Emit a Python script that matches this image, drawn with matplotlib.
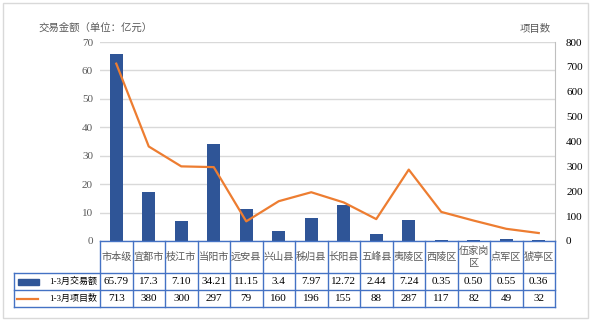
import numpy as np
import matplotlib.pyplot as plt
from matplotlib.patches import Rectangle

plt.rcParams['font.family'] = ['Liberation Serif', 'Noto Sans CJK SC']

# data
regions = ['市本级', '宜都市', '枝江市', '当阳市', '远安县', '兴山县', '秭归县',
           '长阳县', '五峰县', '夷陵区', '西陵区', '伍家岗\n区', '点军区', '猇亭区']
amount = [65.79, 17.3, 7.10, 34.21, 11.15, 3.4, 7.97, 12.72, 2.44, 7.24, 0.35, 0.50, 0.55, 0.36]
amount_txt = ['65.79', '17.3', '7.10', '34.21', '11.15', '3.4', '7.97', '12.72', '2.44',
              '7.24', '0.35', '0.50', '0.55', '0.36']
projects = [713, 380, 300, 297, 79, 160, 196, 155, 88, 287, 117, 82, 49, 32]
row_names = ['1-3月交易额', '1-3月项目数']

bar_c = '#2F5597'
line_c = '#ED7D31'
tab_c = '#4472C4'
txt_c = '#595959'

fig = plt.figure(figsize=(5.91, 3.23), dpi=100)
W, H = 591, 323
x = np.arange(len(regions))
colw = 455 / len(regions)

# main plot
ax = fig.add_axes([100 / W, 1 - 241 / H, 455 / W, 199 / H])
ax.bar(x, amount, width=0.4, color=bar_c, zorder=3)
ax.set_xlim(-0.5, len(regions) - 0.5)
ax.set_ylim(0, 70)
ax.set_yticks(range(0, 71, 10))
ax.yaxis.grid(True, color='#D9D9D9', lw=1)
ax.set_axisbelow(True)
ax.set_xticks([])
ax.tick_params(axis='y', length=0, labelsize=8, labelcolor=txt_c, pad=5)
for s in ['top', 'right', 'left', 'bottom']:
    ax.spines[s].set_visible(False)

ax2 = ax.twinx()
ax2.plot(x, projects, color=line_c, lw=1.6, zorder=4)
ax2.set_ylim(0, 800)
ax2.set_yticks(range(0, 801, 100))
ax2.tick_params(axis='y', length=0, labelsize=8, labelcolor='black', pad=8)
for s in ['top', 'left', 'bottom']:
    ax2.spines[s].set_visible(False)
ax2.spines['right'].set_color('#BFBFBF')

fig.text(38 / W, 1 - 28 / H, '交易金额（单位：亿元）', fontsize=7.5, color=txt_c, va='center')
fig.text(520 / W, 1 - 29 / H, '项目数', fontsize=7.5, color=txt_c, va='center')

# data table
tb = fig.add_axes([100 / W, 1 - 307 / H, 455 / W, 66 / H])
tb.set_xlim(-0.5, len(regions) - 0.5)
tb.set_ylim(66, 0)
tb.axis('off')


def px(v):
    return -0.5 + (v - 100) / colw


left = px(14)
rows = [0, 32, 49, 66]
for y in rows:
    x0 = -0.5 if y == 0 else left
    tb.plot([x0, len(regions) - 0.5], [y, y], color=tab_c, lw=1, clip_on=False)
for i in range(len(regions) + 1):
    tb.plot([i - 0.5, i - 0.5], [0, 66], color=tab_c, lw=1, clip_on=False)
tb.plot([left, left], [32, 66], color=tab_c, lw=1, clip_on=False)

for i, name in enumerate(regions):
    tb.text(i, 16, name, ha='center', va='center', fontsize=7.3, color=txt_c, linespacing=1.3)
    tb.text(i, 40.5, amount_txt[i], ha='center', va='center', fontsize=8)
    tb.text(i, 57.5, str(projects[i]), ha='center', va='center', fontsize=8)

# legend keys inside row labels
tb.add_patch(Rectangle((px(18), 38), px(39) - px(18), 5.5, color=bar_c, clip_on=False))
tb.plot([px(17), px(38)], [57.5, 57.5], color=line_c, lw=1.6, clip_on=False)
tb.text(px(97), 40.5, row_names[0], ha='right', va='center', fontsize=6.5)
tb.text(px(97), 57.5, row_names[1], ha='right', va='center', fontsize=6.5)

# outer frame
fig.patches.append(Rectangle((3 / W, 5 / H), 585 / W, 315 / H, transform=fig.transFigure,
                             fill=False, ec='#D9D9D9', lw=1))

fig.savefig('out.png', dpi=100)
